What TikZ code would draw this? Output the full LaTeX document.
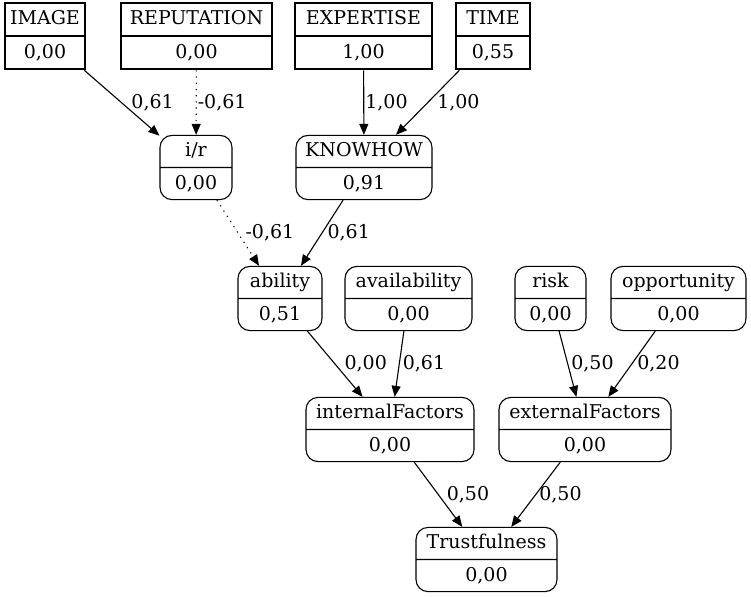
\documentclass[tikz,border=0pt]{standalone}
\usepackage{fontspec}
\setmainfont{DejaVu Serif}
\usetikzlibrary{shapes.multipart,arrows.meta}

\newcommand{\fld}[2]{\rule[-4.5pt]{0pt}{20pt}#1\nodepart{two}\rule[-4.5pt]{0pt}{20pt}#2}

\begin{document}
\begin{tikzpicture}[x=1pt,y=-1pt,
	box/.style={rectangle split, rectangle split parts=2, draw, align=center,
		inner xsep=2pt, inner ysep=5.5pt, font=\fontsize{19}{22}\selectfont},
	obs/.style={box, line width=2.2pt},
	var/.style={box, rounded corners=12pt, line width=1.1pt},
	wt/.style={-{Triangle[length=11pt,width=9pt]}, line width=1.1pt},
	dots/.style={dash pattern=on 1.2pt off 5pt},
	lbl/.style={anchor=west, inner sep=3pt, font=\fontsize{19}{22}\selectfont}]
	\useasboundingbox (0,0) rectangle (751,596);
	% observed inputs
	\node [obs, minimum width=80pt] (image) at (45,36) {\fld{IMAGE}{0,00}};
	\node [obs, minimum width=151pt] (reputation) at (196.5,36) {\fld{REPUTATION}{0,00}};
	\node [obs, minimum width=137pt] (expertise) at (363.5,36) {\fld{EXPERTISE}{1,00}};
	\node [obs, minimum width=74pt] (time) at (493,36) {\fld{TIME}{0,55}};
	% inner variables
	\node [var, minimum width=72pt] (ir) at (196,167.5) {\fld{i/r}{0,00}};
	\node [var, minimum width=136pt] (knowhow) at (364,167.5) {\fld{KNOWHOW}{0,91}};
	\node [var, minimum width=84pt] (ability) at (280,298.5) {\fld{ability}{0,51}};
	\node [var, minimum width=127pt] (availability) at (408.5,298.5) {\fld{availability}{0,00}};
	\node [var, minimum width=71pt] (risk) at (550.5,298.5) {\fld{risk}{0,00}};
	\node [var, minimum width=135pt] (opportunity) at (678.5,298.5) {\fld{opportunity}{0,00}};
	\node [var, minimum width=168pt] (internal) at (390,429.5) {\fld{internalFactors}{0,00}};
	\node [var, minimum width=172pt] (external) at (585,429.5) {\fld{externalFactors}{0,00}};
	\node [var, minimum width=141pt] (trust) at (486.5,559.5) {\fld{Trustfulness}{0,00}};
	% weighted links
	\draw [wt] (image) -- node[lbl, xshift=6pt] {0,61} (ir);
	\draw [wt, dots] (reputation) -- node[lbl, inner sep=1pt] {-0,61} (ir);
	\draw [wt] (expertise) -- node[lbl, inner sep=1pt] {1,00} (knowhow);
	\draw [wt] (time) -- node[lbl, xshift=6pt] {1,00} (knowhow);
	\draw [wt, dots] (ir) -- node[lbl, xshift=4pt] {-0,61} (ability);
	\draw [wt] (knowhow) -- node[lbl, xshift=2pt] {0,61} (ability);
	\draw [wt] (ability) -- node[lbl, xshift=6pt] {0,00} (internal);
	\draw [wt] (availability) -- node[lbl] {0,61} (internal);
	\draw [wt] (risk) -- node[lbl] {0,50} (external);
	\draw [wt] (opportunity) -- node[lbl, xshift=2pt] {0,20} (external);
	\draw [wt] (internal) -- node[lbl, xshift=5pt] {0,50} (trust);
	\draw [wt] (external) -- node[lbl] {0,50} (trust);
\end{tikzpicture}
\end{document}
